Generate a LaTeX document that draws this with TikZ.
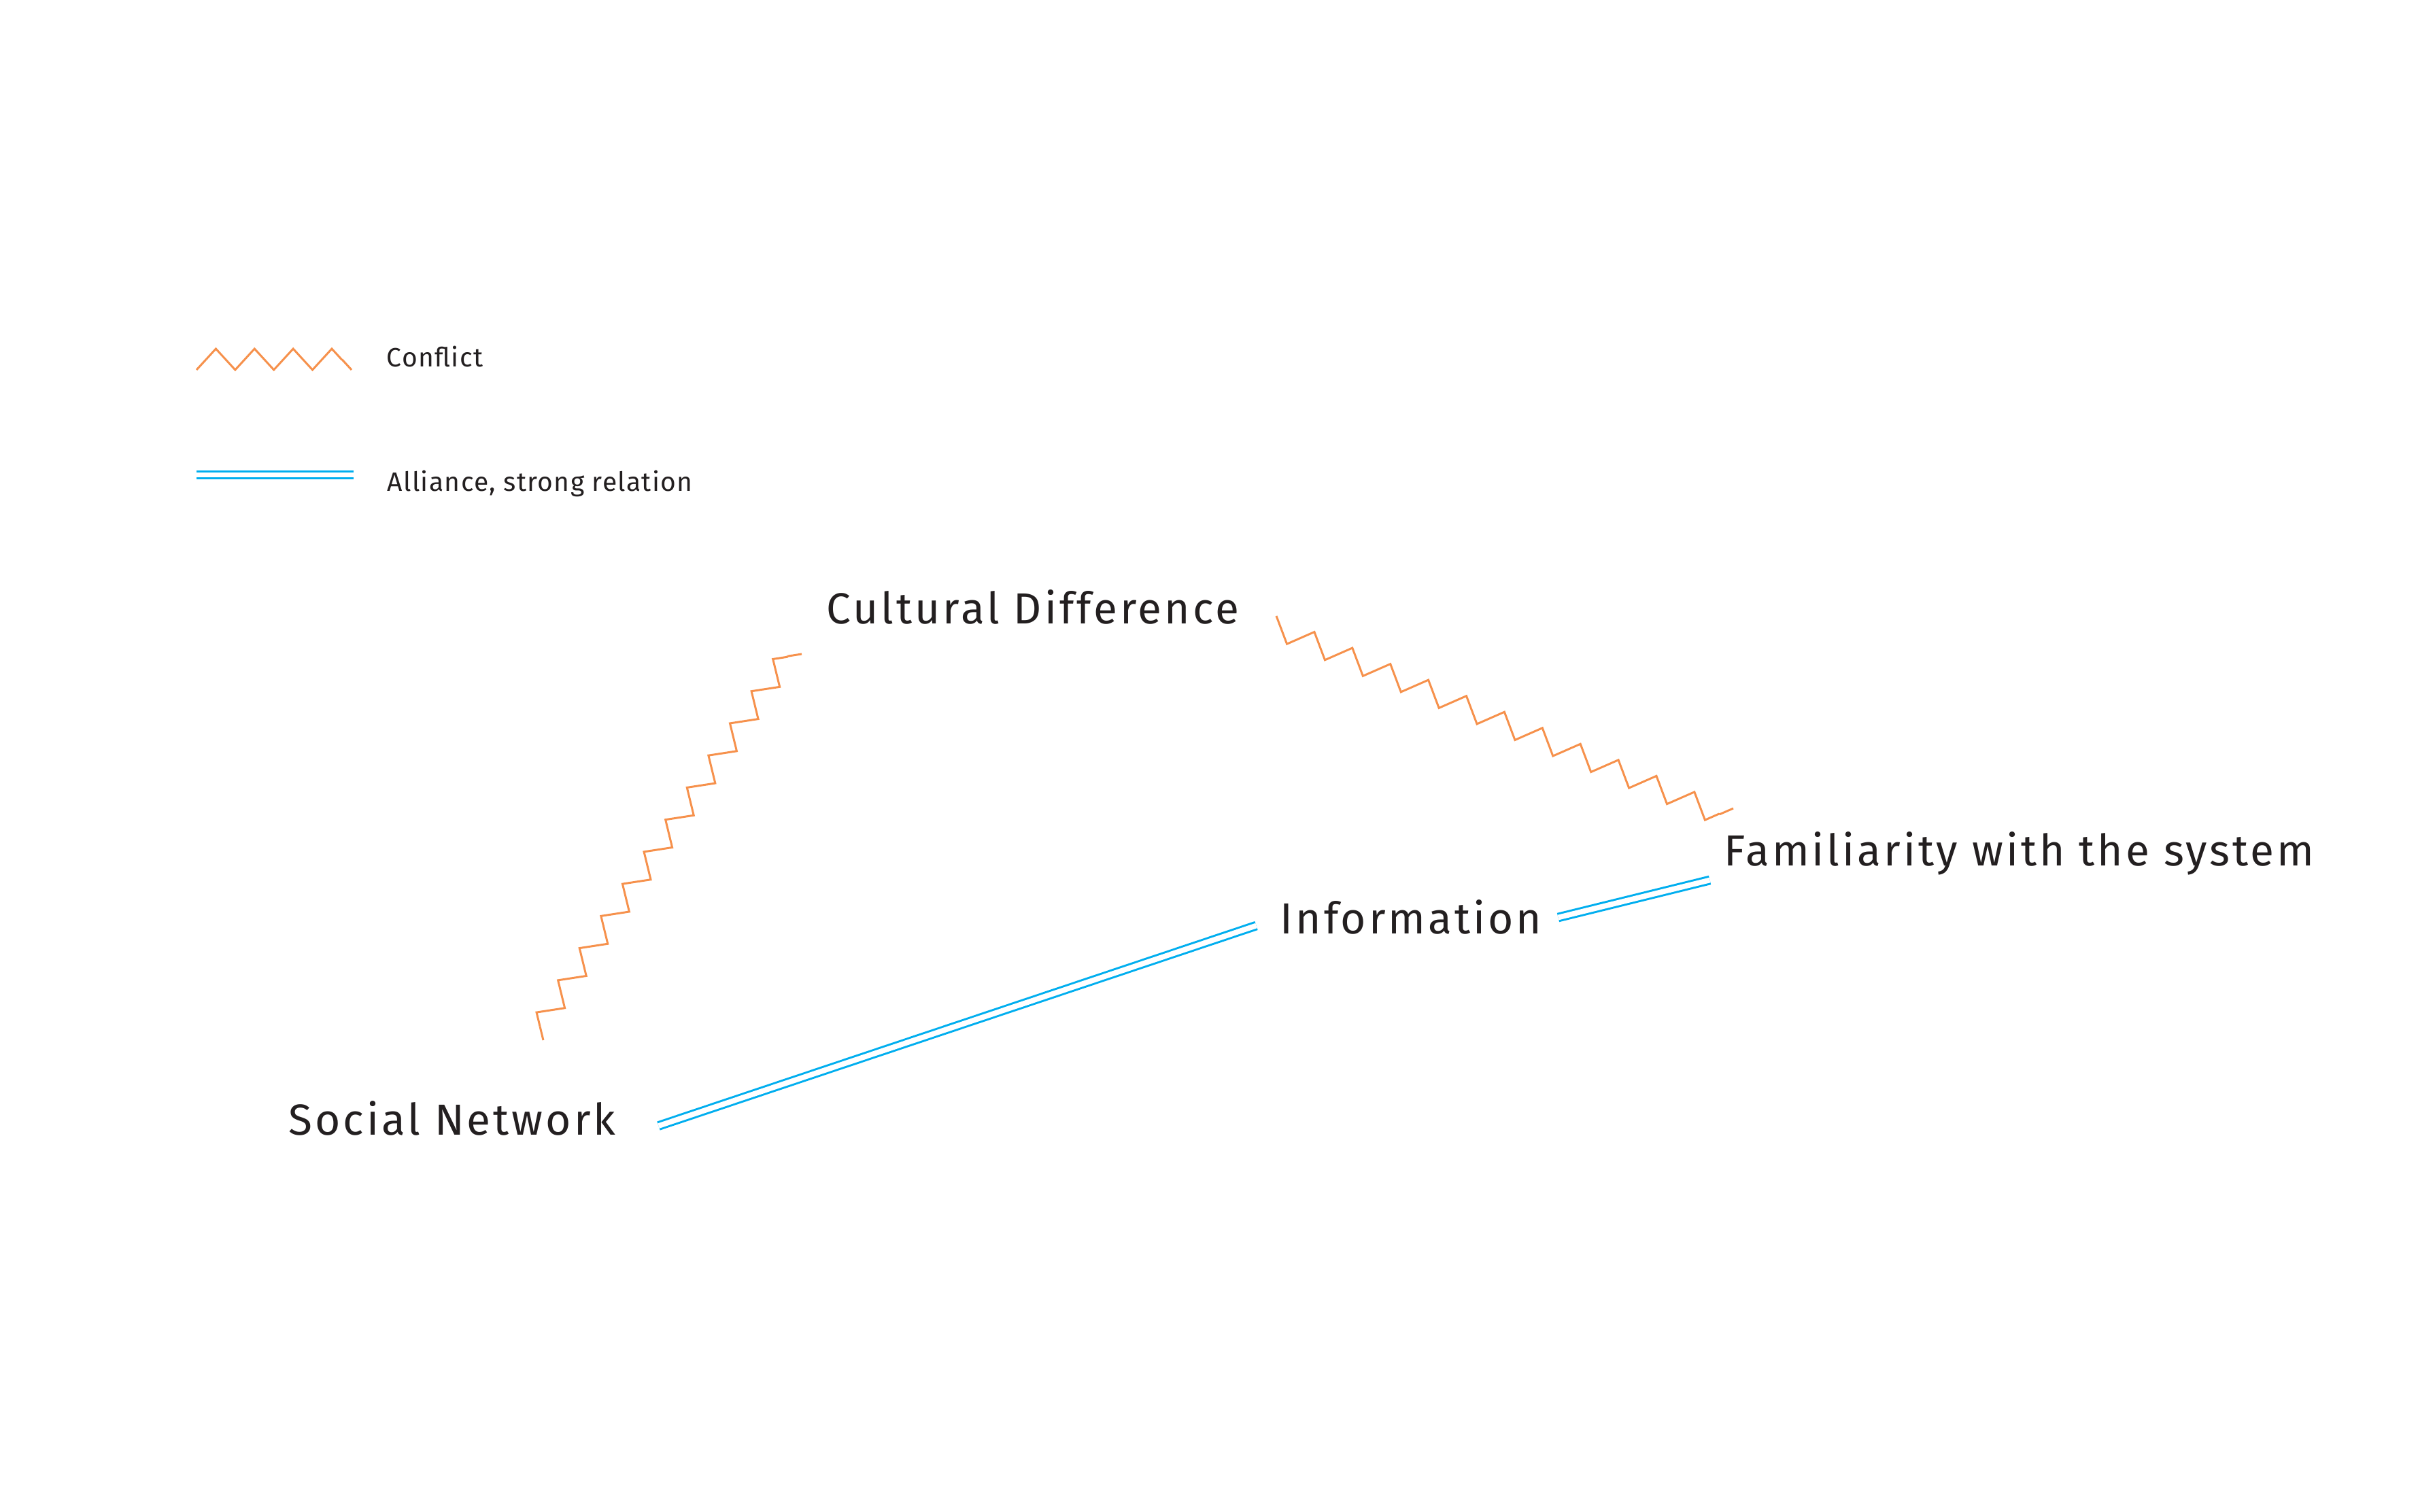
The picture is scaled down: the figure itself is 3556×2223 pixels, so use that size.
\documentclass[tikz,border=0pt]{standalone}
\usepackage{fontspec}
\setmainfont{Fira Sans}[LetterSpace=5]
\newfontfamily\factorfont{Fira Sans}[LetterSpace=6.2]
\newfontfamily\legendfont{Fira Sans}[LetterSpace=3.4]
\usetikzlibrary{decorations.pathmorphing}
\newlength{\du}
\setlength{\du}{0.01cm}

\begin{document}
\begin{tikzpicture}[x=1\du,y=-1\du,
  conflictline/.style={draw=conflictcolor, line width=0.85pt},
  conflict/.style={conflictline, decorate,
    decoration={zigzag, segment length=56.84\du, amplitude=15.5\du}},
  alliance/.style={draw=alliancecolor, line width=0.85pt, double=white, double distance=2.2pt},
  factorlabel/.style={anchor=base west, inner sep=0pt, text=textcolor, font=\factorfont\fontsize{18.2pt}{22pt}\selectfont},
  legendtext/.style={anchor=base west, inner sep=0pt, text=textcolor, font=\legendfont\fontsize{11.1pt}{13pt}\selectfont}]
\definecolor{conflictcolor}{rgb}{0.965000, 0.570000, 0.300000}
\definecolor{alliancecolor}{rgb}{0.000000, 0.682000, 0.937000}
\definecolor{textcolor}{rgb}{0.137000, 0.122000, 0.125000}
\useasboundingbox (0,0) rectangle (3556,2223);
% legend
\coordinate (lc0) at (289,544);
\coordinate (lc1) at (303.25,528.5);
\coordinate (lc2) at (502.75,528.5);
\coordinate (lc3) at (517,544);
\draw[conflictline] (lc0) -- (lc1);
\draw[conflict] (lc1) -- (lc2);
\draw[conflictline] (lc2) -- (lc3);
\node[legendtext] (lconflict) at (568,539) {Conflict};
\coordinate (la1) at (289,698.5);
\coordinate (la2) at (520,698.5);
\draw[alliance] (la1) -- (la2);
\node[legendtext] (lalliance) at (569,722) {Alliance, strong relation};
% factors
\node[factorlabel] (cultural) at (1215,917) {Cultural Difference};
\node[factorlabel] (familiarity) at (2535,1273) {Familiarity with the system};
\node[factorlabel] (information) at (1882,1373) {Information};
\node[factorlabel] (social) at (424,1669) {Social Network};
% conflicts
\coordinate (sc0) at (799,1530);
\coordinate (sc1) at (794.0,1509.5);
\coordinate (sc2) at (1158.2,965.2);
\coordinate (sc3) at (1179,962);
\draw[conflictline] (sc0) -- (sc1);
\draw[conflict] (sc1) -- (sc2);
\draw[conflictline] (sc2) -- (sc3);
\coordinate (cf0) at (1877,906);
\coordinate (cf1) at (1884.8,926.6);
\coordinate (cf2) at (2528.8,1197.8);
\coordinate (cf3) at (2549,1189);
\draw[conflictline] (cf0) -- (cf1);
\draw[conflict, decoration={segment length=60.65\du, amplitude=16\du, mirror}] (cf1) -- (cf2);
\draw[conflictline] (cf2) -- (cf3);
% alliances
\coordinate (si1) at (968.5,1656);
\coordinate (si2) at (1847.5,1361.5);
\draw[alliance] (si1) -- (si2);
\coordinate (if1) at (2291.5,1349.5);
\coordinate (if2) at (2514.5,1294.5);
\draw[alliance] (if1) -- (if2);
\end{tikzpicture}
\end{document}
